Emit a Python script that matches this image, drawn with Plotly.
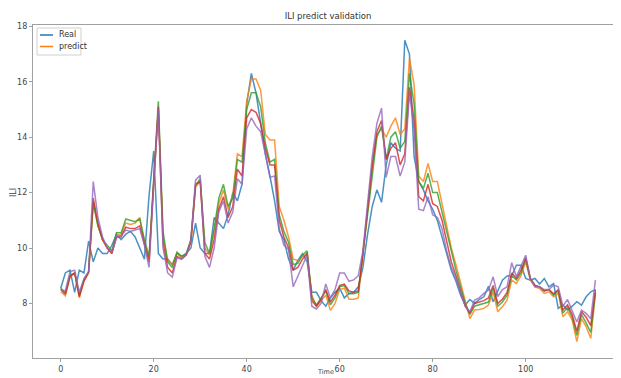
import plotly.graph_objects as go

time = list(range(116))

real = [
    8.55, 9.1, 9.2, 8.4, 9.2, 9.1, 10.25, 9.5, 10.0, 9.8,
    9.8, 10.1, 10.5, 10.3, 10.5, 10.6, 10.4, 10.0, 9.6, 11.9,
    13.5, 9.8, 9.6, 9.6, 9.4, 9.8, 9.7, 9.8, 10.0, 10.9,
    10.0, 9.8, 9.8, 11.1, 10.9, 10.7, 11.2, 12.0, 11.7, 12.3,
    15.2, 16.3, 15.6, 14.5, 13.4, 12.6, 11.7, 10.6, 10.3, 9.6,
    9.2, 9.55, 9.8, 9.5, 8.4, 8.4, 8.1, 7.9, 8.2, 8.4,
    8.55, 8.2, 8.36, 8.4, 8.6, 9.3, 10.5, 11.5, 12.1, 11.65,
    13.0, 13.8, 13.6, 13.5, 17.5, 17.0, 13.3, 12.4, 12.1, 11.7,
    11.4, 11.0, 10.4, 9.7, 9.2, 8.8, 8.3, 7.94, 8.14, 8.0,
    8.14, 8.24, 8.62, 8.06, 8.46, 8.84, 8.99, 9.0, 9.38, 9.38,
    8.9, 8.84, 8.9, 8.7, 8.9, 8.6, 8.72, 7.82, 7.94, 7.76,
    7.9, 8.06, 7.94, 8.24, 8.42, 8.5,
]

predict = [
    8.42, 8.27, 8.95, 9.1, 8.2, 8.8, 9.1, 11.7, 10.8, 10.3,
    10.0, 9.8, 10.45, 10.5, 10.9, 10.85, 10.9, 11.1, 10.2, 9.6,
    12.3, 15.0, 10.4, 9.55, 9.4, 9.8, 9.65, 9.75, 10.2, 12.2,
    12.4, 10.0, 9.75, 10.6, 11.6, 12.1, 11.4, 11.9, 13.4, 13.3,
    15.3, 16.1, 16.1, 15.7, 14.1, 13.9, 13.9, 11.5, 11.0, 10.4,
    9.6, 9.55, 9.7, 9.8, 8.3, 7.9, 8.1, 8.3, 7.75, 8.0,
    8.5, 8.55, 8.15, 8.15, 8.2, 9.9, 11.4, 12.9, 14.1, 14.3,
    14.0, 14.4, 14.7, 14.1, 14.3, 16.85, 15.9, 12.6, 12.4, 13.05,
    12.4, 12.4, 11.6, 10.8, 10.0, 9.4, 8.8, 8.1, 7.45, 7.76,
    7.78, 7.82, 7.94, 8.4, 7.7, 7.88, 8.12, 8.84, 8.72, 9.0,
    9.5, 8.84, 8.6, 8.54, 8.36, 8.42, 8.24, 8.36, 7.52, 7.7,
    7.4, 6.62, 7.45, 7.16, 6.74, 8.36,
]

pred_b = [
    8.56, 8.38, 9.0, 9.1, 8.3, 8.85, 9.15, 11.6, 10.8, 10.3,
    10.1, 9.9, 10.55, 10.55, 11.05, 11.0, 10.95, 11.05, 10.3, 9.7,
    12.6, 15.3, 10.6, 9.5, 9.3, 9.85, 9.7, 9.8, 10.3, 12.25,
    12.5, 10.2, 9.8, 10.7, 11.8, 12.3, 11.5, 11.8, 13.2, 13.1,
    15.0, 15.6, 15.6, 15.1, 13.8, 13.1, 13.2, 11.2, 10.6, 10.2,
    9.4, 9.45, 9.75, 9.9, 8.2, 7.95, 8.2, 8.45, 7.95, 8.2,
    8.6, 8.65, 8.35, 8.35, 8.4, 9.8, 11.3, 12.8, 14.0, 14.4,
    13.2, 14.0, 14.2, 13.6, 13.85, 16.3, 15.2, 12.4, 12.15, 12.7,
    12.0, 12.0, 11.3, 10.5, 9.8, 9.2, 8.6, 8.0, 7.6, 7.9,
    7.95, 8.0, 8.05, 8.55, 7.9, 8.05, 8.3, 9.0, 8.85, 9.1,
    9.6, 8.9, 8.65, 8.6, 8.45, 8.5, 8.3, 8.45, 7.65, 7.85,
    7.5, 6.85, 7.6, 7.3, 6.95, 8.4,
]

pred_c = [
    8.5, 8.33, 8.98, 9.1, 8.25, 8.82, 9.12, 11.8, 10.9, 10.3,
    10.0, 9.8, 10.4, 10.4, 10.75, 10.7, 10.7, 10.8, 10.15, 9.5,
    12.4, 15.1, 10.2, 9.3, 9.1, 9.7, 9.6, 9.75, 10.25, 12.3,
    12.4, 9.8, 9.6, 10.3, 11.4, 11.85, 11.1, 11.5, 12.85, 12.6,
    14.7, 15.0, 14.9, 14.5, 13.6, 13.0, 13.0, 11.0, 10.4, 10.0,
    9.2, 9.3, 9.6, 9.8, 8.1, 7.9, 8.15, 8.5, 8.05, 8.3,
    8.65, 8.7, 8.45, 8.4, 8.45, 9.8, 11.4, 13.0, 14.2, 14.6,
    13.2, 13.6, 13.8, 13.0, 13.4, 15.8, 14.6, 11.85, 11.7, 12.3,
    11.6, 11.5, 11.0, 10.2, 9.5, 9.0, 8.45, 7.9, 7.65, 8.0,
    8.05, 8.1, 8.2, 8.65, 8.0, 8.15, 8.4, 9.1, 8.9, 9.2,
    9.65, 8.9, 8.65, 8.6, 8.45, 8.5, 8.35, 8.5, 7.75, 7.95,
    7.6, 7.0, 7.7, 7.5, 7.2, 8.5,
]

pred_d = [
    8.5, 8.45, 9.15, 9.2, 8.4, 8.9, 9.15, 12.4, 11.1, 10.4,
    10.0, 9.85, 10.4, 10.45, 10.65, 10.6, 10.65, 10.7, 10.1, 9.3,
    12.3, 15.0, 10.0, 9.1, 8.95, 9.65, 9.6, 9.75, 10.3, 12.45,
    12.63, 9.7, 9.3, 10.0, 11.3, 11.7, 10.9, 11.3, 12.5, 12.3,
    14.3, 14.7, 14.4, 14.2, 13.4, 12.55, 12.6, 10.7, 10.1, 9.95,
    8.6, 9.0, 9.4, 9.75, 7.9, 7.8, 8.0, 8.7, 8.2, 8.5,
    9.1, 9.1, 8.8, 8.85, 9.0, 9.9, 11.6, 13.3, 14.5, 15.05,
    12.55, 13.3, 13.3, 12.6, 13.1, 15.6, 14.3, 11.4, 11.35, 11.85,
    11.2, 11.1, 10.7, 9.9, 9.3, 8.9, 8.4, 7.9, 7.7, 8.12,
    8.2, 8.36, 8.48, 8.96, 8.25, 8.5, 8.6, 9.47, 8.96, 9.32,
    9.74, 8.9, 8.6, 8.6, 8.5, 8.5, 8.66, 8.6, 7.9, 8.14,
    7.76, 7.33, 7.76, 7.64, 7.45, 8.84,
]

series = [
    ("Real", real, "#1f77b4"),
    ("predict", predict, "#ff7f0e"),
    ("pred_b", pred_b, "#2ca02c"),
    ("pred_c", pred_c, "#d62728"),
    ("pred_d", pred_d, "#9467bd"),
]
legend_names = ["Real", "predict"]
legend_colors = ["#1f77b4", "#ff7f0e"]

fig = go.Figure()
for name, vals, color in series:
    fig.add_trace(go.Scatter(
        x=time, y=vals, mode="lines", name=name, showlegend=False,
        line=dict(color=color, width=1.5), opacity=0.8,
    ))

FONT = "DejaVu Sans"
axis_common = dict(
    showgrid=False, zeroline=False, showline=True, linecolor="#a0a0a0",
    linewidth=1.2, ticks="outside", ticklen=3, tickcolor="#a0a0a0",
    tickfont=dict(size=8, color="#444", family=FONT), automargin=False,
)

# the page places the figure 8px from the window's top-left corner
OFF = 8
WIN_W, WIN_H = 621, 378
W, H = WIN_W - OFF, WIN_H - OFF
# plot area in window px: x 33..621, y 25..358
L, R, T, B = 33 - OFF, 0, 25 - OFF, WIN_H - 358
pw, ph = W - L - R, H - T - B


def px(x):
    return (x - OFF - L) / pw


def py(y):
    return (H - B - (y - OFF)) / ph


shapes = [dict(type="rect", xref="paper", yref="paper",
               x0=px(37), x1=px(81), y0=py(55), y1=py(28),
               line=dict(color="#d0d0d0", width=1), fillcolor="rgba(255,255,255,0.9)",
               layer="above")]
annotations = []
for i, (nm, col) in enumerate(zip(legend_names, legend_colors)):
    yy = 35 + i * 11.5
    shapes.append(dict(type="line", xref="paper", yref="paper",
                       x0=px(40), x1=px(53), y0=py(yy), y1=py(yy),
                       line=dict(color=col, width=1.5), layer="above"))
    annotations.append(dict(text=nm, xref="paper", yref="paper", x=px(57), y=py(yy),
                            xanchor="left", yanchor="middle", showarrow=False,
                            font=dict(size=8, color="#333", family=FONT)))

annotations.append(dict(text="ILI", xref="paper", yref="paper", x=px(13), y=py(192),
                        xanchor="center", yanchor="middle", textangle=-90, showarrow=False,
                        font=dict(size=8, color="#444", family=FONT)))
annotations.append(dict(text="Time", xref="paper", yref="paper", x=px(325), y=py(378.5),
                        xanchor="center", yanchor="bottom", showarrow=False,
                        font=dict(size=6.5, color="#444", family=FONT)))

fig.update_layout(
    width=W, height=H,
    margin=dict(l=L, r=R, t=T, b=B, pad=0),
    paper_bgcolor="white", plot_bgcolor="white",
    title=dict(text="ILI predict validation", x=(328 - OFF) / W, xanchor="center",
               y=1 - (16.5 - OFF) / H, yanchor="middle", automargin=False,
               font=dict(size=8.5, color="#333", family=FONT)),
    xaxis=dict(range=[-5.96, 120.5], tickvals=[0, 20, 40, 60, 80, 100, 120],
               mirror=True, **axis_common),
    yaxis=dict(range=[6.03, 18.05], tickvals=[8, 10, 12, 14, 16, 18],
               **axis_common),
    shapes=shapes,
    annotations=annotations,
    showlegend=False,
)

fig.write_html("out.html")
